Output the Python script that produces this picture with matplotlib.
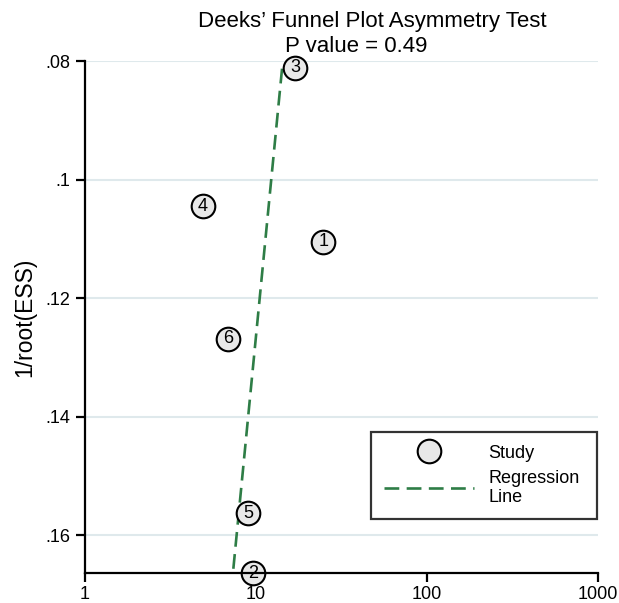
import matplotlib
matplotlib.use("Agg")
import matplotlib.pyplot as plt
from matplotlib.lines import Line2D

plt.rcParams['font.family'] = ['Liberation Sans', 'DejaVu Sans']

# study data: diagnostic odds ratio vs 1/sqrt(effective sample size)
study_ids = ['1', '2', '3', '4', '5', '6']
dor = [24.7, 9.6, 16.9, 4.9, 9.0, 6.86]
inv_root_ess = [0.1105, 0.1664, 0.0811, 0.1045, 0.1563, 0.1269]

# fitted regression line endpoints
reg_y = [0.0813, 0.1664]
reg_x = [14.2, 7.33]

x_ticks = [1, 10, 100, 1000]
y_ticks = [0.08, 0.10, 0.12, 0.14, 0.16]
y_ticklabels = ['.08', '.1', '.12', '.14', '.16']

green = '#2e7d46'
dash = (5.6, 2.8)

fig = plt.figure(figsize=(6.19, 6.03), dpi=100)
ax = fig.add_axes([85/619, 30/603, 513/619, 512/603])

for yt in y_ticks:
    ax.axhline(yt, color='#dfe9ec', lw=1.5, zorder=0)

ax.plot(reg_x, reg_y, color=green, lw=1.9, dashes=dash, zorder=2)
ax.plot(dor, inv_root_ess, 'o', ms=17, mfc='#e8e8e8', mec='black', mew=1.5,
        zorder=3, clip_on=False)
for sid, xv, yv in zip(study_ids, dor, inv_root_ess):
    ax.text(xv, yv, sid, ha='center', va='center', fontsize=13, zorder=4)

ax.set_xscale('log')
ax.set_xlim(1, 1000)
ax.set_ylim(0.1664, 0.08)
ax.set_xticks(x_ticks)
ax.set_xticklabels([str(v) for v in x_ticks])
ax.minorticks_off()
ax.set_yticks(y_ticks)
ax.set_yticklabels(y_ticklabels)
ax.tick_params(axis='both', labelsize=13, length=6.5, width=1.6, color='black')
ax.tick_params(axis='y', pad=4)
ax.tick_params(axis='x', pad=3)
ax.spines['top'].set_visible(False)
ax.spines['right'].set_visible(False)
for side in ['left', 'bottom']:
    ax.spines[side].set_linewidth(1.6)
    ax.spines[side].set_zorder(5)
ax.set_ylabel('1/root(ESS)', fontsize=16.5)
ax.yaxis.set_label_coords((36 - 85) / 513, 0.5)

fig.text(372/619, 1 - 27/603, "Deeks\u2019 Funnel Plot Asymmetry Test", ha='center',
         va='baseline', fontsize=16)
fig.text(356/619, 1 - 52/603, 'P value = 0.49', ha='center', va='baseline',
         fontsize=16)

handles = [
    Line2D([], [], marker='o', ls='none', ms=17, mfc='#e8e8e8', mec='black', mew=1.5),
    Line2D([], [], color=green, lw=1.9, dashes=dash),
]
leg = fig.legend(handles, ['Study', 'Regression\nLine'], loc='upper left',
                 bbox_to_anchor=(371/619, 1 - 432/603, 226/619, 0.0),
                 mode='expand', borderaxespad=0, fontsize=13, frameon=True,
                 fancybox=False, edgecolor='black', handlelength=5.0,
                 borderpad=0.7, labelspacing=0.45, handletextpad=0.8)
leg.get_frame().set_linewidth(1.6)

fig.savefig('out.png', dpi=100)
